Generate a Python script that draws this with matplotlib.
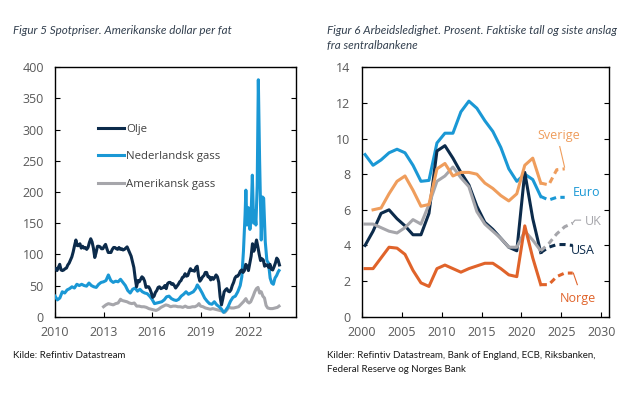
import numpy as np
import matplotlib
matplotlib.use("Agg")
import matplotlib.pyplot as plt

# ---- Figur 5: spotpriser (USD per fat) ----
# Brent, monthly, Jan 2010 - Nov 2023
oil_v = [77, 74, 79, 84, 75, 74, 75, 77, 78, 83, 86, 91,
         96, 104, 114, 123, 114, 114, 117, 110, 113, 110, 111, 108,
         111, 119, 125, 120, 110, 95, 103, 113, 113, 112, 109, 109,
         113, 116, 109, 103, 103, 103, 108, 111, 111, 109, 108, 111,
         108, 109, 107, 108, 110, 112, 107, 102, 97, 88, 79, 62,
         48, 58, 56, 60, 64, 62, 57, 47, 48, 48, 44, 38,
         31, 33, 39, 42, 47, 48, 45, 46, 47, 50, 45, 53,
         55, 55, 52, 53, 50, 46, 49, 52, 56, 58, 63, 64,
         69, 65, 66, 72, 77, 74, 74, 73, 79, 81, 65, 57,
         60, 64, 66, 71, 71, 64, 64, 59, 63, 60, 63, 67,
         64, 55, 32, 19, 29, 40, 43, 45, 41, 40, 43, 50,
         55, 62, 65, 65, 68, 73, 75, 71, 74, 84, 81, 74,
         86, 97, 117, 105, 113, 123, 112, 100, 90, 93, 91, 81,
         83, 83, 79, 84, 76, 75, 80, 86, 94, 91, 83]

ttf_t = [2010.0, 2010.15, 2010.3, 2010.45, 2010.6, 2010.75, 2010.9, 2011.05, 2011.2, 2011.35,
         2011.5, 2011.65, 2011.8, 2011.95, 2012.1, 2012.25, 2012.4, 2012.55, 2012.7, 2012.85,
         2013.0, 2013.15, 2013.3, 2013.45, 2013.6, 2013.75, 2013.9, 2014.05, 2014.2, 2014.35,
         2014.5, 2014.65, 2014.8, 2014.95, 2015.1, 2015.25, 2015.4, 2015.55, 2015.7, 2015.85,
         2016.0, 2016.15, 2016.3, 2016.45, 2016.6, 2016.75, 2016.9, 2017.05, 2017.2, 2017.35,
         2017.5, 2017.65, 2017.8, 2017.95, 2018.1, 2018.25, 2018.4, 2018.55, 2018.7, 2018.8,
         2018.95, 2019.1, 2019.25, 2019.4, 2019.55, 2019.7, 2019.85, 2020.0, 2020.15, 2020.3,
         2020.42, 2020.55, 2020.7, 2020.85, 2021.0, 2021.15, 2021.3, 2021.45, 2021.55, 2021.65,
         2021.75, 2021.8, 2021.87, 2021.95, 2022.05, 2022.12, 2022.2, 2022.28, 2022.35, 2022.42,
         2022.5, 2022.57, 2022.65, 2022.75, 2022.83, 2022.9, 2023.0, 2023.1, 2023.2, 2023.3,
         2023.4, 2023.5, 2023.6, 2023.7, 2023.8, 2023.85]
ttf_v = [33, 27, 30, 40, 38, 43, 45, 48, 46, 52,
         50, 52, 50, 49, 54, 50, 48, 47, 52, 55,
         56, 58, 67, 58, 55, 57, 56, 60, 55, 50,
         42, 38, 44, 46, 41, 44, 40, 38, 37, 33,
         28, 21, 22, 23, 24, 27, 32, 33, 29, 27,
         26, 28, 33, 36, 40, 36, 38, 40, 45, 51,
         45, 38, 30, 25, 21, 20, 24, 19, 16, 12,
         7, 10, 16, 25, 31, 33, 40, 50, 64, 105,
         163, 203, 147, 175, 140, 160, 227, 150, 170, 147,
         210, 380, 250, 123, 192, 190, 120, 90, 86, 62,
         54, 52, 62, 66, 72, 74]

hh_t = [2013.0, 2013.15, 2013.3, 2013.45, 2013.6, 2013.75, 2013.9, 2014.05, 2014.15, 2014.3,
        2014.45, 2014.6, 2014.75, 2014.9, 2015.05, 2015.2, 2015.35, 2015.5, 2015.65, 2015.8,
        2015.95, 2016.1, 2016.25, 2016.4, 2016.55, 2016.7, 2016.85, 2017.0, 2017.15, 2017.3,
        2017.45, 2017.6, 2017.75, 2017.9, 2018.05, 2018.2, 2018.35, 2018.5, 2018.65, 2018.8,
        2018.9, 2019.0, 2019.15, 2019.3, 2019.45, 2019.6, 2019.75, 2019.9, 2020.05, 2020.2,
        2020.35, 2020.5, 2020.6, 2020.75, 2020.9, 2021.05, 2021.2, 2021.35, 2021.5, 2021.65,
        2021.8, 2021.9, 2022.0, 2022.1, 2022.25, 2022.35, 2022.45, 2022.55, 2022.65, 2022.75,
        2022.85, 2022.95, 2023.05, 2023.15, 2023.3, 2023.45, 2023.6, 2023.75, 2023.85]
hh_v = [16, 19, 21, 20, 19, 21, 22, 28, 26, 25,
        24, 22, 21, 22, 17, 17, 16, 16, 15, 13,
        12, 11, 10, 12, 15, 17, 19, 18, 16, 17,
        17, 16, 16, 15, 17, 15, 15, 16, 16, 18,
        21, 17, 16, 14, 13, 12, 13, 12, 11, 10,
        9, 7, 10, 15, 14, 14, 15, 16, 20, 24,
        29, 24, 22, 24, 33, 40, 45, 47, 38, 40,
        33, 30, 18, 14, 13, 13, 14, 15, 17]

# ---- Figur 6: arbeidsledighet (prosent) ----
years = [2000, 2001, 2002, 2003, 2004, 2005, 2006, 2007, 2008, 2009, 2010, 2011,
         2012, 2013, 2014, 2015, 2016, 2017, 2018, 2019, 2020, 2021, 2022]
euro = [9.1, 8.5, 8.8, 9.2, 9.4, 9.2, 8.5, 7.6, 7.65, 9.75, 10.3, 10.3,
        11.5, 12.1, 11.7, 11.0, 10.4, 9.5, 8.3, 7.6, 8.0, 7.7, 6.75]
usa = [4.0, 4.8, 5.8, 6.0, 5.5, 5.1, 4.6, 4.6, 5.8, 9.3, 9.6, 8.9,
       8.1, 7.4, 6.2, 5.3, 4.9, 4.4, 3.9, 3.7, 8.1, 5.5, 3.6]
uk = [5.2, 5.2, 5.0, 4.8, 4.7, 5.0, 5.45, 5.2, 6.3, 7.6, 7.9, 8.4,
      7.8, 7.3, 5.9, 5.2, 4.8, 4.4, 3.9, 3.9, 4.8, 4.3, 3.7]
sverige = [None, 6.0, 6.1, 6.9, 7.6, 7.9, 7.1, 6.2, 6.3, 8.3, 8.6, 7.9,
           8.1, 8.1, 8.0, 7.5, 7.2, 6.8, 6.5, 6.9, 8.5, 8.9, 7.5]
norge = [2.7, 2.7, 3.3, 3.9, 3.85, 3.5, 2.6, 1.9, 1.7, 2.7, 2.9, 2.7,
         2.5, 2.7, 2.85, 3.0, 3.0, 2.7, 2.35, 2.25, 5.1, 3.3, 1.8]

# siste anslag fra sentralbankene (starter i siste faktiske år)
fc_years_3 = [2022, 2023, 2024, 2025]
fc_years_4 = [2022, 2023, 2024, 2025, 2026]
euro_fc = [6.75, 6.55, 6.7, 6.7]
sverige_fc = [7.5, 7.4, 8.25, 8.3]
usa_fc = [3.6, 3.9, 4.05, 4.05, 4.0]
uk_fc = [3.7, 4.1, 4.65, 5.05, 5.25]
norge_fc = [1.8, 1.8, 2.25, 2.45, 2.45]

NAVY = "#0c2b4b"
BLUE = "#1a98d5"
GREY = "#a6a6ab"
LORANGE = "#ef9d5c"
DORANGE = "#e0632a"
TICKCOL = "#595959"

plt.rcParams["font.family"] = ["Open Sans", "DejaVu Sans"]

fig = plt.figure(figsize=(6.41, 3.93), dpi=100)
ax1 = fig.add_axes([0.0858, 0.1941, 0.3760, 0.6347])
ax2 = fig.add_axes([0.5643, 0.1941, 0.3862, 0.6347])

# left panel
oil_t = 2010 + (np.arange(len(oil_v)) + 0.5) / 12
ax1.plot(hh_t, hh_v, color=GREY, lw=2.2, label="Amerikansk gass", zorder=2)
ax1.plot(ttf_t, ttf_v, color=BLUE, lw=2.2, label="Nederlandsk gass", zorder=3)
ax1.plot(oil_t, oil_v, color=NAVY, lw=2.2, label="Olje", zorder=4)
ax1.set_xlim(2010, 2024.9)
ax1.set_ylim(0, 400)
ax1.set_xticks([2010, 2013, 2016, 2019, 2022])
ax1.set_yticks(range(0, 401, 50))
h, l = ax1.get_legend_handles_labels()
ax1.legend(h[::-1], l[::-1], loc="upper left", bbox_to_anchor=(0.135, 0.815), frameon=False,
           handlelength=2.3, handletextpad=0.2, labelspacing=1.45, fontsize=8.2,
           labelcolor="#404040")

# right panel
off = 0.42
x = np.array(years) + off
ax2.plot(x, euro, color=BLUE, lw=2.2)
ax2.plot(x, usa, color=NAVY, lw=2.2)
ax2.plot(x, uk, color=GREY, lw=2.2)
ax2.plot(x, [np.nan if v is None else v for v in sverige], color=LORANGE, lw=2.2)
ax2.plot(x, norge, color=DORANGE, lw=2.2)
dash = (0, (2.0, 1.4))
ax2.plot(np.array(fc_years_3) + off, euro_fc, color=BLUE, lw=2.2, ls=dash)
ax2.plot(np.array(fc_years_3) + off, sverige_fc, color=LORANGE, lw=2.2, ls=dash)
ax2.plot(np.array(fc_years_4) + off, usa_fc, color=NAVY, lw=2.2, ls=dash)
ax2.plot(np.array(fc_years_4) + off, uk_fc, color=GREY, lw=2.2, ls=dash)
ax2.plot(np.array(fc_years_4) + off, norge_fc, color=DORANGE, lw=2.2, ls=dash)

# etiketter med ledelinjer
lab_fs = 9
ax2.text(2024.7, 10.15, "Sverige", color=LORANGE, fontsize=lab_fs, ha="center", va="center")
ax2.plot([2024.8, 2025.4], [9.55, 8.4], color=LORANGE, lw=0.8)
ax2.text(2028.2, 7.0, "Euro", color=BLUE, fontsize=lab_fs, ha="center", va="center")
ax2.text(2029.0, 5.36, "UK", color=GREY, fontsize=lab_fs, ha="center", va="center")
ax2.plot([2026.4, 2026.7, 2027.4], [5.25, 5.42, 5.42], color=GREY, lw=0.8)
ax2.text(2027.7, 3.74, "USA", color=NAVY, fontsize=lab_fs, ha="center", va="center")
ax2.text(2027.1, 1.05, "Norge", color=DORANGE, fontsize=lab_fs, ha="center", va="center")
ax2.plot([2026.5, 2027.0], [2.45, 1.8], color=DORANGE, lw=0.8)

ax2.set_xlim(2000, 2031)
ax2.set_ylim(0, 14)
ax2.set_xticks(range(2000, 2031, 5))
ax2.set_yticks(range(0, 15, 2))

for ax in (ax1, ax2):
    for s in ax.spines.values():
        s.set_linewidth(1.0)
        s.set_color("black")
    ax.tick_params(direction="in", length=3.5, width=0.8, left=True, right=True,
                   bottom=True, top=False, labelsize=9, labelcolor=TICKCOL)
    ax.tick_params(axis="y", pad=8)
    ax.tick_params(axis="x", pad=7)

title_kw = dict(fontsize=8.4, style="italic", color="#33404f", family=["Lato", "DejaVu Sans"])
fig.text(13 / 641, 1 - 31 / 393, "Figur 5 Spotpriser. Amerikanske dollar per fat", va="center", **title_kw)
fig.text(327 / 641, 1 - 31 / 393, "Figur 6 Arbeidsledighet. Prosent. Faktiske tall og siste anslag",
         va="center", **title_kw)
fig.text(327 / 641, 1 - 45 / 393, "fra sentralbankene", va="center", **title_kw)

src_kw = dict(fontsize=7, color="#1a1a1a", family=["Lato", "DejaVu Sans"])
fig.text(13 / 641, 1 - 356 / 393, "Kilde: Refintiv Datastream", va="center", **src_kw)
fig.text(327 / 641, 1 - 356 / 393, "Kilder: Refintiv Datastream, Bank of England, ECB, Riksbanken,",
         va="center", **src_kw)
fig.text(327 / 641, 1 - 370 / 393, "Federal Reserve og Norges Bank", va="center", **src_kw)

fig.savefig("out.png", dpi=100, facecolor="white")
